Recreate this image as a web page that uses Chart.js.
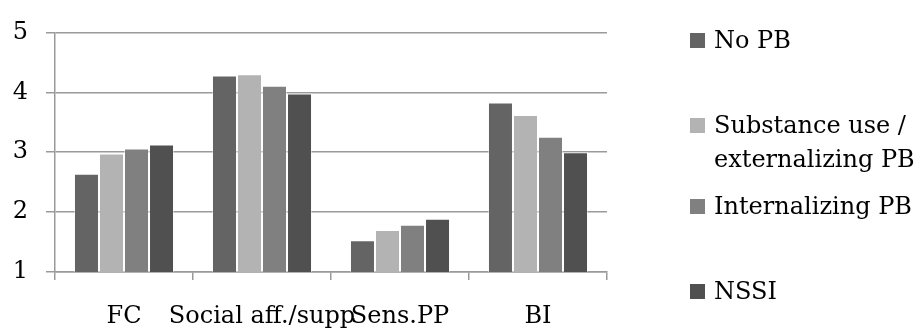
<!DOCTYPE html>
<html>
<head>
<meta charset="utf-8">
<script src="https://cdn.jsdelivr.net/npm/chart.js@4/dist/chart.umd.min.js"></script>
<style>
  html, body { margin: 0; padding: 0; background: #ffffff; }
  #wrap { position: relative; width: 919px; height: 332px; overflow: hidden; }
  #chart { position: absolute; left: 0; top: 0; }
  .legend-item { position: absolute; left: 690px; display: flex; align-items: flex-start;
                 font-family: "DejaVu Serif", serif; font-size: 24px; color: #000; line-height: 34px;
                 white-space: nowrap; }
  .legend-box { width: 15px; height: 15px; margin-right: 9px; margin-top: 9.5px; flex: none; }
</style>
</head>
<body>
<div id="wrap">
  <canvas id="chart" width="919" height="332"></canvas>
</div>
<script>
// Motive categories on the x axis
const categories = ["FC", "Social aff./supp", "Sens.PP", "BI"];

// Mean scores per group
const noPB        = [2.64, 4.28, 1.53, 3.83];
const substanceEx = [2.98, 4.30, 1.70, 3.62];
const internalPB  = [3.06, 4.11, 1.79, 3.26];
const nssi        = [3.13, 3.98, 1.89, 3.00];

// Group names (the second one wraps onto two lines in the legend)
const groupNames = ["No PB", "Substance use / externalizing PB", "Internalizing PB", "NSSI"];
const groupLines = [["No PB"], ["Substance use /", "externalizing PB"], ["Internalizing PB"], ["NSSI"]];
const groupColors = ["#646464", "#b3b3b3", "#808080", "#505050"];

// Tick values on the y axis
const yTicks = [1, 2, 3, 4, 5];

// Vertical centre of the first text line of each legend entry
const legendCenters = [40, 125, 206, 291];
const LEGEND_LINE = 34;

const FONT = "'DejaVu Serif', serif";
const GRID = "#9a9a9a";

const seriesValues = [noPB, substanceEx, internalPB, nssi];

const chart = new Chart(document.getElementById("chart"), {
  type: "bar",
  data: {
    labels: categories,
    datasets: seriesValues.map((vals, i) => ({
      label: groupNames[i],
      data: vals,
      backgroundColor: groupColors[i],
      borderColor: "rgba(255,255,255,0.45)",
      borderWidth: 1,
      categoryPercentage: 0.725,
      barPercentage: 1.0
    }))
  },
  options: {
    responsive: false,
    animation: false,
    devicePixelRatio: 1,
    layout: { padding: { top: 27, right: 312, left: 0, bottom: 0 } },
    plugins: { legend: { display: false }, tooltip: { enabled: false } },
    scales: {
      x: {
        offset: true,
        grid: {
          offset: true,
          drawOnChartArea: false,
          drawTicks: true,
          tickLength: 8,
          color: GRID,
          lineWidth: 1.5
        },
        border: { display: true, color: GRID, width: 1.5 },
        ticks: {
          autoSkip: false,
          maxRotation: 0,
          minRotation: 0,
          padding: 22,
          color: "#000",
          font: { family: FONT, size: 24 }
        },
        afterFit(scale) { scale.height = 60; }
      },
      y: {
        min: 1,
        max: 5,
        afterBuildTicks(scale) { scale.ticks = yTicks.map(v => ({ value: v })); },
        grid: {
          color: GRID,
          lineWidth: 1.5,
          drawTicks: true,
          tickLength: 9
        },
        border: { display: true, color: GRID, width: 1.5 },
        ticks: {
          padding: 18,
          color: "#000",
          font: { family: FONT, size: 24 }
        },
        afterFit(scale) { scale.width = 55; }
      }
    }
  }
});

// Legend entries, built from the dataset labels and colours
const wrap = document.getElementById("wrap");
chart.data.datasets.forEach((ds, i) => {
  const item = document.createElement("div");
  item.className = "legend-item";
  const box = document.createElement("span");
  box.className = "legend-box";
  box.style.background = ds.backgroundColor;
  const text = document.createElement("span");
  groupLines[i].forEach((line, k) => {
    if (k > 0) text.appendChild(document.createElement("br"));
    text.appendChild(document.createTextNode(line));
  });
  item.appendChild(box);
  item.appendChild(text);
  wrap.appendChild(item);
  item.style.top = (legendCenters[i] - LEGEND_LINE / 2) + "px";
});
</script>
</body>
</html>
